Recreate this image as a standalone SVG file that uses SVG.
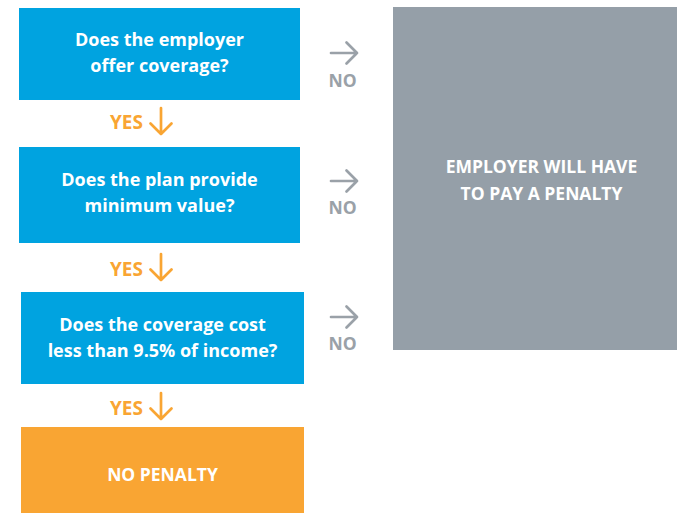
<svg xmlns="http://www.w3.org/2000/svg" width="677" height="513" viewBox="0 0 677 513">
  <defs>
    <style>
      .q { fill: #00a3e0; }
      .txt { font-family: "Open Sans", "Liberation Sans", sans-serif; font-weight: 700; text-anchor: middle; }
      .qt { fill: #ffffff; font-size: 18px; }
      .no { fill: #9aa1a8; font-size: 17.5px; }
      .yes { fill: #f9a533; font-size: 19px; }
      .arr-no { fill: none; stroke: #9aa1a8; stroke-width: 2.7; stroke-linecap: round; stroke-linejoin: round; }
      .arr-yes { fill: none; stroke: #f9a533; stroke-width: 2.7; stroke-linecap: round; stroke-linejoin: round; }
    </style>
  </defs>
  <rect width="677" height="513" fill="#ffffff"/>

  <g id="q1">
    <rect class="q" x="19" y="8" width="281" height="92"/>
    <text class="txt qt" x="159.5" y="46">Does the employer</text>
    <text class="txt qt" x="159.5" y="72">offer coverage?</text>
  </g>
  <g id="q2">
    <rect class="q" x="19" y="147" width="281" height="96"/>
    <text class="txt qt" x="159.5" y="186">Does the plan provide</text>
    <text class="txt qt" x="159.5" y="212">minimum value?</text>
  </g>
  <g id="q3">
    <rect class="q" x="21" y="292" width="283" height="92"/>
    <text class="txt qt" x="162.5" y="331">Does the coverage cost</text>
    <text class="txt qt" x="162.5" y="357">less than 9.5% of income?</text>
  </g>
  <g id="no-penalty">
    <rect x="21" y="427" width="283" height="86" fill="#f9a533"/>
    <text class="txt" x="162.5" y="481" fill="#ffffff" font-size="17.5">NO PENALTY</text>
  </g>
  <g id="penalty">
    <rect x="393" y="7" width="284" height="343" fill="#959fa8"/>
    <text class="txt" x="541.5" y="173" fill="#ffffff" font-size="17.5">EMPLOYER WILL HAVE</text>
    <text class="txt" x="541.5" y="200" fill="#ffffff" font-size="17.5">TO PAY A PENALTY</text>
  </g>

  <g id="connectors">
    <path class="arr-no" d="M331 53 H357 M346.5 42.5 L357 53 L346.5 63.5"/>
    <text class="txt no" x="342.5" y="87">NO</text>
    <path class="arr-no" d="M331 181 H357 M346.5 170.5 L357 181 L346.5 191.5"/>
    <text class="txt no" x="342.5" y="214">NO</text>
    <path class="arr-no" d="M331 317 H357 M346.5 306.5 L357 317 L346.5 327.5"/>
    <text class="txt no" x="342.5" y="350">NO</text>

    <text class="txt yes" x="126.5" y="129">YES</text>
    <path class="arr-yes" d="M161 108 V134 M150.5 123.5 L161 134 L171.5 123.5"/>
    <text class="txt yes" x="126.5" y="276">YES</text>
    <path class="arr-yes" d="M161 254 V280 M150.5 269.5 L161 280 L171.5 269.5"/>
    <text class="txt yes" x="126.5" y="415">YES</text>
    <path class="arr-yes" d="M161 393 V419 M150.5 408.5 L161 419 L171.5 408.5"/>
  </g>
</svg>
